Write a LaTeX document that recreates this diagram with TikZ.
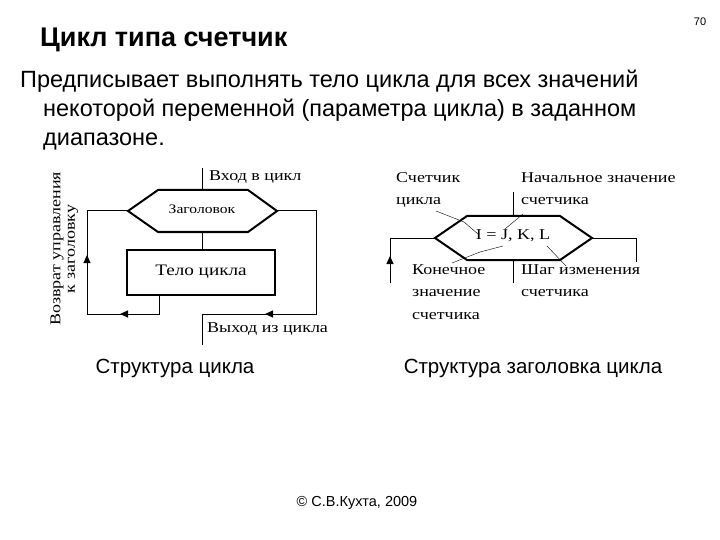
\documentclass[tikz,border=0pt]{standalone}
\usepackage{fontspec}
\setmainfont{Liberation Sans}
\newfontfamily\ser[FakeStretch=1.2]{Liberation Serif}
\usetikzlibrary{arrows.meta}
\begin{document}
\begin{tikzpicture}[x=1pt,y=-1pt,
  thick/.style={line width=2pt},
  ln/.style={line width=1pt},
  lead/.style={line width=0.4pt},
  arr/.style={-{Triangle[length=8pt,width=7pt]}},
  st/.style={font=\ser\fontsize{15}{17}\selectfont, inner sep=0pt},
  lbl/.style={font=\ser\fontsize{15}{22.5}\selectfont, inner sep=0pt, align=left, anchor=north west}]
\useasboundingbox (0,0) rectangle (720,540);
\node[anchor=west,font=\bfseries\fontsize{27}{30}\selectfont,inner sep=0pt] (title) at (40,40) {Цикл типа счетчик};
\node[font=\fontsize{11}{13}\selectfont] (pg) at (700,22) {70};
\node[anchor=north west,align=left,font=\fontsize{23.5}{29}\selectfont,inner sep=0pt] (body) at (20,70) {Предписывает выполнять тело цикла для всех значений\\\hspace*{23pt}некоторой переменной (параметра цикла) в заданном\\\hspace*{23pt}диапазоне.};
% left diagram
\coordinate (hl) at (128,211); \coordinate (hr) at (277,211);
\draw[thick] (hl) -- (158,190) -- (248,190) -- (hr) -- (248,232) -- (158,232) -- cycle;
\node[st,font=\ser\fontsize{13}{15}\selectfont] (hdr) at (202,209) {Заголовок};
\node[draw,thick,minimum width=148pt,minimum height=45pt,st,font=\ser\fontsize{16}{18}\selectfont] (bodyb) at (201,272) {Тело цикла};
\coordinate (in) at (202,168);
\draw[ln] (in) -- (202,190);
\draw[ln] (202,232) -- (bodyb.north-|202,0);
\draw[ln] (159,295) -- (159,314) -- (87,314) -- (87,211) -- (hl);
\draw[ln,arr] (159,314) -- (120,314);
\draw[ln,arr] (87,300) -- (87,255);
\draw[ln] (hr) -- (316,211) -- (316,314) -- (202,314) -- (202,345);
\draw[ln,arr] (316,314) -- (265,314);
\node[st,anchor=west] (entry) at (209,177) {Вход в цикл};
\node[st,anchor=west] (exit) at (207,329) {Выход из цикла};
\node[st,rotate=90] (ret1) at (57,249) {Возврат управления};
\node[st,rotate=90] (ret2) at (73,249) {к заголовку};
% right diagram
\coordinate (rl) at (435,238); \coordinate (rr) at (592,238);
\draw[thick] (rl) -- (467,216) -- (560,216) -- (rr) -- (560,260) -- (467,260) -- cycle;
\node[st] (iv) at (513,236) {I = J, K, L};
\draw[ln] (513,192) -- (513,216);
\draw[ln] (513,260) -- (513,283);
\draw[ln] (rl) -- (390,238) -- (390,283);
\draw[ln,arr] (390,283) -- (390,256);
\draw[ln] (rr) -- (636,238) -- (636,262);
\node[lbl] (c1) at (396,172) {Счетчик\\цикла};
\node[lbl] (c2) at (521,172) {Начальное значение\\счетчика};
\node[lbl] (c3) at (412,264) {Конечное\\значение\\счетчика};
\node[lbl] (c4) at (521,264) {Шаг изменения\\счетчика};
\draw[lead] (436,211) -- (464,222) -- (478,234);
\draw[lead] (523,214) -- (505,229);
\draw[lead] (452,263) -- (480,252) -- (503,246);
\draw[lead] (547,246) -- (566,266);
\node[font=\fontsize{20.5}{24}\selectfont] (cap1) at (175,368) {Структура цикла};
\node[font=\fontsize{20.5}{24}\selectfont] (cap2) at (533,368) {Структура заголовка цикла};
\node[font=\fontsize{14.5}{17}\selectfont] (copy) at (357,503) {© С.В.Кухта, 2009};
\end{tikzpicture}
\end{document}
